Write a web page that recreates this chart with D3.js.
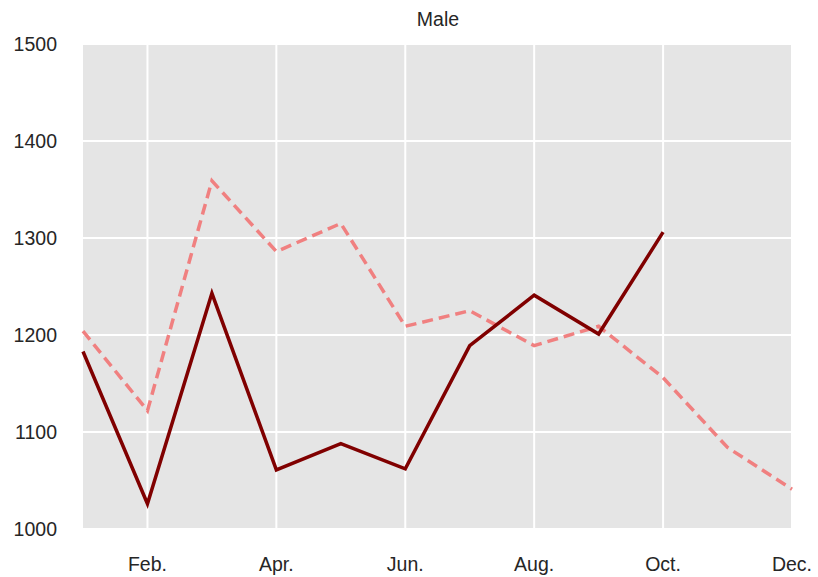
<!DOCTYPE html>
<html lang="en">
<head>
<meta charset="utf-8" />
<style>
    body { margin: 0; background: #fff; }
    text { font-family: "Liberation Sans", Arial, sans-serif; fill: #262626; }
    .grid line { stroke: #fff; stroke-width: 2px; }
    .series { fill: none; stroke-width: 3.5px; stroke-linejoin: miter; }
</style>
</head>
<body>
<svg width="818" height="577"></svg>
<script src="https://cdn.jsdelivr.net/npm/d3@7"></script>
<script>

    var months = [1, 2, 3, 4, 5, 6, 7, 8, 9, 10, 11, 12],
        tickMonths = [2, 4, 6, 8, 10, 12],
        tickLabels = ["Feb.", "Apr.", "Jun.", "Aug.", "Oct.", "Dec."],
        yTicks = [1000, 1100, 1200, 1300, 1400, 1500];

    // current year (solid) and previous year (dashed)
    var current = [1183, 1026, 1243, 1061, 1088, 1062, 1189, 1241, 1201, 1306];
    var previous = [1204, 1122, 1359, 1286, 1315, 1209, 1225, 1189, 1209, 1156, 1084, 1041];

    var svg = d3.select("svg"),
        plotLeft = 83, plotRight = 792, plotTop = 44, plotBottom = 529;

    var x = d3.scaleLinear().domain([1, 12]).range([plotLeft, plotRight]),
        y = d3.scaleLinear().domain([1000, 1500]).range([plotBottom, plotTop]);

    svg.append("rect")
        .attr("x", plotLeft).attr("y", plotTop)
        .attr("width", plotRight - plotLeft).attr("height", plotBottom - plotTop)
        .attr("fill", "#e5e5e5");

    var grid = svg.append("g").attr("class", "grid");
    grid.selectAll(".h").data(yTicks).enter().append("line")
        .attr("x1", plotLeft).attr("x2", plotRight)
        .attr("y1", d => y(d)).attr("y2", d => y(d));
    grid.selectAll(".v").data(tickMonths).enter().append("line")
        .attr("y1", plotTop).attr("y2", plotBottom)
        .attr("x1", d => x(d)).attr("x2", d => x(d));

    svg.selectAll(".ylab").data(yTicks).enter().append("text")
        .attr("x", 57).attr("y", d => y(d))
        .attr("dy", "0.35em")
        .attr("text-anchor", "end")
        .attr("font-size", 19.5)
        .text(d => d);

    svg.selectAll(".xlab").data(tickMonths).enter().append("text")
        .attr("x", d => x(d)).attr("y", 564)
        .attr("dy", "0.35em")
        .attr("text-anchor", "middle")
        .attr("font-size", 19.5)
        .text((d, i) => tickLabels[i]);

    svg.append("text")
        .attr("x", 438).attr("y", 19)
        .attr("dy", "0.35em")
        .attr("text-anchor", "middle")
        .attr("font-size", 19.5)
        .text("Male");

    var line = d3.line()
        .x((d, i) => x(months[i]))
        .y(d => y(d));

    svg.append("path")
        .datum(previous)
        .attr("class", "series")
        .attr("stroke", "#f08080")
        .attr("stroke-dasharray", "11,6")
        .attr("d", line);

    svg.append("path")
        .datum(current)
        .attr("class", "series")
        .attr("stroke", "#800000")
        .attr("d", line);

</script>
</body>
</html>
